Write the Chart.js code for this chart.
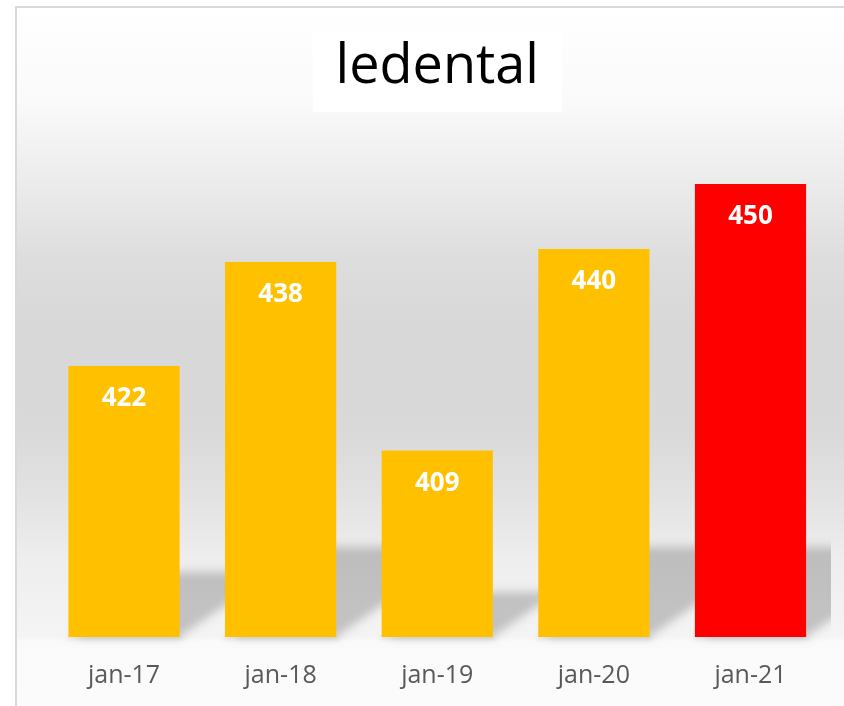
<!DOCTYPE html>
<html>
<head>
<meta charset="utf-8">
<script src="https://cdn.jsdelivr.net/npm/chart.js@4/dist/chart.umd.min.js"></script>
<style>
  html, body { margin: 0; padding: 0; background: #ffffff; }
  #wrap { position: relative; width: 844px; height: 706px; }
</style>
</head>
<body>
<div id="wrap"><canvas id="grafico"></canvas></div>
<script>
const titulo = 'ledental';
const etiquetas = ['jan-17', 'jan-18', 'jan-19', 'jan-20', 'jan-21'];
const valores = [422, 438, 409, 440, 450];
const colores = ['#FFC000', '#FFC000', '#FFC000', '#FFC000', '#FF0000'];
const anchoBarra = 0.71;

// fondo degradado, bordes, sombras y caja blanca del titulo
const fondoPlugin = {
    id: 'fondo',
    beforeDraw(chart) {
        const ctx = chart.ctx;
        const w = chart.width, h = chart.height;
        ctx.save();
        ctx.fillStyle = '#ffffff';
        ctx.fillRect(0, 0, w, h);
        const g = ctx.createLinearGradient(0, 9, 0, h);
        const stops = [[9, '#ffffff'], [100, '#fafafa'], [180, '#ececec'], [260, '#dddddd'],
                       [330, '#d8d8d8'], [430, '#d9d9d9'], [500, '#e3e3e3'], [560, '#eeeeee'],
                       [636, '#f4f4f4'], [642, '#fafafa'], [706, '#fbfbfb']];
        stops.forEach(s => g.addColorStop((s[0] - 9) / (h - 9), s[1]));
        ctx.fillStyle = g;
        ctx.fillRect(17, 8, w - 17, h - 8);
        ctx.fillStyle = '#d9d9d9';
        ctx.fillRect(15, 6, w - 15, 2);
        ctx.fillRect(15, 6, 2, h - 6);

        // sombras inclinadas detras de las barras
        const xs = chart.scales.x, ys = chart.scales.y;
        const ancho = xs.width / etiquetas.length * anchoBarra;
        const base = ys.bottom;
        const off = 2000;
        ctx.save();
        ctx.beginPath();
        ctx.rect(17, 8, 831 - 17, h);
        ctx.clip();
        ctx.fillStyle = '#000000';
        valores.forEach((v, i) => {
            const cx = xs.getPixelForValue(i);
            const top = ys.getPixelForValue(v);
            const L = cx - ancho / 2 - off;
            const R = cx + ancho / 2 - off;
            const sh = Math.min((base - top) * 0.24, 90);
            ctx.shadowOffsetX = off;
            ctx.shadowBlur = 10;
            ctx.shadowColor = 'rgba(0,0,0,0.2)';
            ctx.beginPath();
            ctx.moveTo(L + 10, base);
            ctx.lineTo(R, base);
            ctx.lineTo(R + 60, base - 42);
            ctx.lineTo(R + 60, base - sh);
            ctx.lineTo(L + 10, base - sh);
            ctx.closePath();
            ctx.fill();
            ctx.shadowBlur = 4;
            ctx.shadowColor = 'rgba(0,0,0,0.08)';
            ctx.fillRect(L - 1, base - 1, ancho + 4, 4);
        });
        ctx.restore();

        // caja del titulo
        const t = chart.titleBlock;
        ctx.font = '54px "Open Sans"';
        const anchoTexto = ctx.measureText(titulo).width;
        const cx = (chart.chartArea.left + chart.chartArea.right) / 2;
        ctx.fillStyle = '#ffffff';
        ctx.fillRect(cx - anchoTexto / 2 - 23, t.top + 33, anchoTexto + 46, 79);
        ctx.restore();
    }
};

// etiquetas de valor dentro de las barras
const etiquetaPlugin = {
    id: 'etiquetas',
    afterDatasetsDraw(chart) {
        const ctx = chart.ctx;
        const xs = chart.scales.x, ys = chart.scales.y;
        ctx.save();
        ctx.font = 'bold 26px "Open Sans"';
        ctx.fillStyle = '#ffffff';
        ctx.textAlign = 'center';
        ctx.textBaseline = 'middle';
        valores.forEach((v, i) => {
            ctx.fillText(String(v), xs.getPixelForValue(i), ys.getPixelForValue(v) + 33);
        });
        ctx.restore();
    }
};

const ctx = document.getElementById('grafico').getContext('2d');
new Chart(ctx, {
    type: 'bar',
    data: {
        labels: etiquetas,
        datasets: [{
            data: valores,
            backgroundColor: colores,
            borderWidth: 0,
            barPercentage: anchoBarra,
            categoryPercentage: 1
        }]
    },
    options: {
        responsive: true,
        maintainAspectRatio: false,
        animation: false,
        events: [],
        layout: { padding: { left: 45.7, right: 15.2, top: 0, bottom: 0 } },
        plugins: {
            legend: { display: false },
            tooltip: { enabled: false },
            title: {
                display: true,
                text: titulo,
                color: '#000000',
                font: { family: 'Open Sans', size: 54, weight: 'normal', lineHeight: 1.2 },
                padding: { top: 35.6, bottom: 16.6 }
            }
        },
        scales: {
            x: {
                grid: { display: false, drawTicks: false },
                border: { display: false },
                ticks: {
                    color: '#595959',
                    padding: 24,
                    font: { family: 'Open Sans', size: 25, lineHeight: 1.2 }
                },
                afterFit(scale) { scale.height = 69; }
            },
            y: {
                display: false,
                min: 380.3,
                max: 460.3
            }
        }
    },
    plugins: [fondoPlugin, etiquetaPlugin]
});
</script>
</body>
</html>
